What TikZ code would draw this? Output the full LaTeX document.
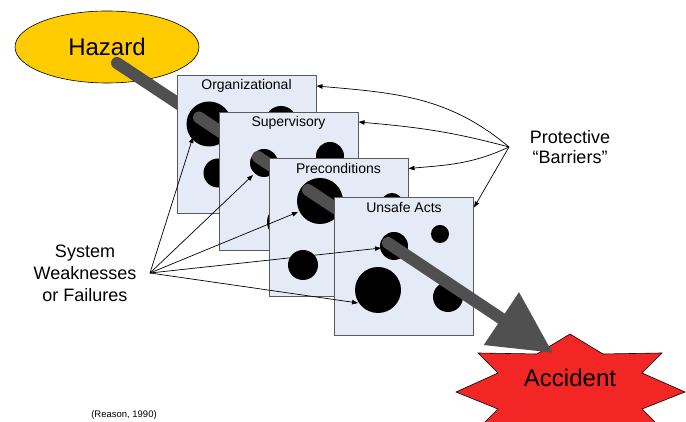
\documentclass[tikz,border=0pt]{standalone}
\usepackage{fontspec}
\setmainfont{Liberation Sans}
\usetikzlibrary{arrows.meta,shapes.geometric}
\definecolor{hazyellow}{RGB}{255,204,0}
\definecolor{hazgrey}{RGB}{80,80,80}
\definecolor{panelblue}{RGB}{228,234,246}
\definecolor{panelline}{RGB}{90,90,90}
\definecolor{accred}{RGB}{242,38,36}
\tikzset{
  panel/.style={draw=panelline, line width=1pt, fill=panelblue, minimum width=139pt, minimum height=138pt, inner sep=0pt},
  ttl/.style={anchor=base, font=\fontsize{14}{16}\selectfont},
  hzline/.style={line width=12pt, draw=hazgrey, line cap=round},
  pointer/.style={-{Triangle[length=6pt,width=4.5pt]}, line width=0.7pt},
}
\begin{document}
\begin{tikzpicture}[x=1pt,y=1pt]
\useasboundingbox (0,0) rectangle (686,422);
\clip (0,0) rectangle (686,422);

%hazard
\node[ellipse, draw, line width=0.6pt, fill=hazyellow, minimum width=184pt, minimum height=72pt, font=\fontsize{24}{28}\selectfont] (hazard) at (107,375) {Hazard};
\coordinate (a0) at (117,359);
\coordinate (a1) at (200,304);
\draw[hzline] (a0) -- (a1);

%organizational
\node[panel] (org) at (246.5,277.5) {};
\node[ttl] (orgt) at ([yshift=-15pt]org.north) {Organizational};
\fill (209,298) circle (22.5);
\fill (281,300) circle (16);
\fill (218,249) circle (14.5);
\coordinate (b0) at (199,304.5);
\coordinate (b1) at (265,260.6);
\draw[hzline] (b0) -- (b1);

%supervisory
\node[panel] (sup) at (288.5,240.5) {};
\node[ttl] (supt) at ([yshift=-15pt]sup.north) {Supervisory};
\fill (264,259) circle (14);
\fill (330,266) circle (14);
\fill (284,200) circle (17);
\coordinate (c0) at (258,265);
\coordinate (c1) at (320,224);
\draw[hzline] (c0) -- (c1);

%preconditions
\node[panel] (pre) at (338.5,194) {};
\node[ttl] (pret) at ([yshift=-15pt]pre.north) {Preconditions};
\fill (320,221) circle (23);
\fill (392,218) circle (11);
\fill (303,157) circle (15);
\coordinate (d0) at (308,232);
\coordinate (d1) at (390,177.5);
\draw[hzline] (d0) -- (d1);

%unsafe acts
\node[panel] (uns) at (404,155) {};
\node[ttl] (unst) at ([yshift=-15pt]uns.north) {Unsafe Acts};
\fill (394,176) circle (14);
\fill (440,188) circle (9);
\fill (378,132) circle (23);
\fill (448,125) circle (15);

%accident
\draw[fill=accred, line width=0.6pt] (570,88) -- (603,68) -- (662,69) -- (642,49) -- (685,30) -- (642,13) -- (662,-7) -- (603,-6) -- (570,-26) -- (537,-6) -- (478,-7) -- (498,13) -- (456,30) -- (498,49) -- (478,69) -- (537,68) -- cycle;
\node[font=\fontsize{24}{28}\selectfont] (accident) at (570,44) {Accident};
\coordinate (e0) at (388,179);
\coordinate (tip) at (553,69);
\draw[hzline, -{Triangle[length=62pt,width=60pt]}] (e0) -- (tip);

%system weaknesses
\node[font=\fontsize{18}{22}\selectfont, align=center] (weak) at (85,149) {System\\Weaknesses\\or Failures};
\coordinate (wsrc) at (150,149);
\coordinate (w1) at (193,285);
\coordinate (w2) at (253,247);
\coordinate (w3) at (298,210);
\coordinate (w4) at (381,174);
\coordinate (w5) at (358,119);
\draw[pointer] (wsrc) -- (w1);
\draw[pointer] (wsrc) -- (w2);
\draw[pointer] (wsrc) -- (w3);
\draw[pointer] (wsrc) -- (w4);
\draw[pointer] (wsrc) -- (w5);

%barriers
\node[font=\fontsize{18}{20.5}\selectfont, align=center] (prot) at (570,275) {Protective\\“Barriers”};
\coordinate (bsrc) at (509,275);
\draw[pointer] (bsrc) to[out=140,in=-5] ([yshift=-11pt]org.north east);
\draw[pointer] (bsrc) to[out=165,in=-5] ([yshift=-10pt]sup.north east);
\draw[pointer] (bsrc) to[out=205,in=5] ([yshift=-10pt]pre.north east);
\draw[pointer] (bsrc) to[out=240,in=60] ([yshift=-10pt]uns.north east);

\node[font=\fontsize{9.5}{11}\selectfont] (ref) at (124,7) {(Reason, 1990)};
\end{tikzpicture}
\end{document}
